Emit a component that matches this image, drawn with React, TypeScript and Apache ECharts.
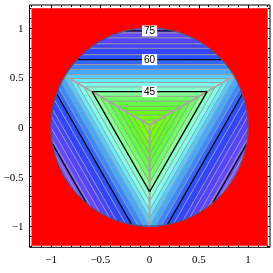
import React, { useEffect, useRef } from 'react';
import * as echarts from 'echarts';

// Axis tick labels (major) and minor tick positions
const xTickLabels = [-1, -0.5, 0, 0.5, 1];
const yTickLabels = [-1, -0.5, 0, 0.5, 1];
const minorTickValues = [-1.2, -1.1, -0.9, -0.8, -0.7, -0.6, -0.4, -0.3, -0.2, -0.1, 0.1, 0.2, 0.3, 0.4, 0.6, 0.7, 0.8, 0.9, 1.1, 1.2];

// Plot region (red background) and disk
const plotRange = [-1.2, 1.2];
const diskCenter = [0, 0];
const diskRadius = 1;

// Triangular contours: centre and inradius of each band boundary
const triCenter = [0, 0.02];
const bandOuterInradius = [0.05, 0.1, 0.145, 0.19, 0.24, 0.29, 0.337, 0.385, 0.43, 0.47, 0.51, 0.56, 0.61, 0.66, 0.71, 0.775, 0.82, 0.88, 0.93, 0.98, 2.0];
const bandColors = [
  '#7cff00', '#72ff08', '#66ff14', '#5cff24', '#62ff40', '#70ff62', '#84ff92',
  '#88ffcc', '#80ffee', '#66eeff', '#55ccff', '#44aaff', '#3a88ff', '#3366ff',
  '#2c50ff', '#3444ff', '#4444ff', '#5444ff', '#6448ff', '#7450ff', '#8452ff',
];

// Labelled contours
const contourLevels = [45, 60, 75];
const contourInradius = [0.337, 0.66, 0.95];

const ridgeAngles = [270, 30, 150];
const normalAngles = [90, 210, 330];

const rad = (d: number) => (d * Math.PI) / 180;

function diskDist(ux: number, uy: number) {
  const cx = triCenter[0] - diskCenter[0];
  const cy = triCenter[1] - diskCenter[1];
  const b = cx * ux + cy * uy;
  const c2 = cx * cx + cy * cy;
  return -b + Math.sqrt(b * b - c2 + diskRadius * diskRadius);
}

function bandPolygon(d: number): number[][] {
  const pts: number[][] = [];
  for (let t = 0; t < 360; t += 1) {
    const ux = Math.cos(rad(t));
    const uy = Math.sin(rad(t));
    let m = -Infinity;
    for (const a of normalAngles) m = Math.max(m, Math.cos(rad(t - a)));
    const rt = d / m;
    const r = Math.min(rt, diskDist(ux, uy));
    pts.push([triCenter[0] + r * ux, triCenter[1] + r * uy]);
  }
  return pts;
}

function triSegments(d: number): number[][][] {
  const verts = ridgeAngles.map((a) => [
    triCenter[0] + 2 * d * Math.cos(rad(a)),
    triCenter[1] + 2 * d * Math.sin(rad(a)),
  ]);
  const segs: number[][][] = [];
  for (let i = 0; i < 3; i++) {
    const p = verts[i];
    const q = verts[(i + 1) % 3];
    const px = p[0] - diskCenter[0];
    const py = p[1] - diskCenter[1];
    const dx = q[0] - p[0];
    const dy = q[1] - p[1];
    const A = dx * dx + dy * dy;
    const B = 2 * (px * dx + py * dy);
    const C = px * px + py * py - diskRadius * diskRadius;
    const disc = B * B - 4 * A * C;
    if (disc <= 0) continue;
    const s = Math.sqrt(disc);
    const t0 = Math.max(0, (-B - s) / (2 * A));
    const t1 = Math.min(1, (-B + s) / (2 * A));
    if (t1 <= t0) continue;
    segs.push([
      [p[0] + t0 * dx, p[1] + t0 * dy],
      [p[0] + t1 * dx, p[1] + t1 * dy],
    ]);
  }
  return segs;
}

const fmt = (v: number) => String(v).replace('-', '\u2212');

export default function App() {
  const ref = useRef<HTMLDivElement>(null);
  useEffect(() => {
    if (!ref.current) return;
    const chart = echarts.init(ref.current, null, { renderer: 'svg' });
    const xr: [number, number] = [-1.22, 1.223];
    const yr: [number, number] = [-1.215, 1.232];
    const font = { fontFamily: 'Liberation Serif', fontSize: 11, color: '#000' };
    const mkX = (position: string, major: boolean, labels: boolean) => ({
      type: 'value', min: xr[0], max: xr[1], position,
      axisLine: { show: false, onZero: false }, splitLine: { show: false },
      axisTick: { show: true, inside: true, length: major ? 4 : 2, customValues: major ? xTickLabels : minorTickValues, lineStyle: { color: '#000', width: 1 } },
      axisLabel: labels ? { show: true, customValues: xTickLabels, formatter: fmt, margin: 6, ...font } : { show: false },
    });
    const mkY = (position: string, major: boolean, labels: boolean) => ({
      type: 'value', min: yr[0], max: yr[1], position,
      axisLine: { show: false, onZero: false }, splitLine: { show: false },
      axisTick: { show: true, inside: true, length: major ? 4 : 2, customValues: major ? yTickLabels : minorTickValues, lineStyle: { color: '#000', width: 1 } },
      axisLabel: labels ? { show: true, customValues: yTickLabels, formatter: fmt, margin: 6, ...font } : { show: false },
    });

    const renderItem = (_params: any, api: any) => {
      const c = (p: number[]) => api.coord(p);
      const children: any[] = [];
      // red background
      children.push({
        type: 'polygon',
        shape: { points: [c([plotRange[0], plotRange[0]]), c([plotRange[1], plotRange[0]]), c([plotRange[1], plotRange[1]]), c([plotRange[0], plotRange[1]])] },
        style: { fill: '#ff0000' },
      });
      // bands, outermost first
      for (let i = bandOuterInradius.length - 1; i >= 0; i--) {
        children.push({
          type: 'polygon',
          shape: { points: bandPolygon(bandOuterInradius[i]).map(c) },
          style: { fill: bandColors[i], stroke: bandColors[i], lineWidth: 0.5 },
        });
      }
      // gray contour lines
      bandOuterInradius.forEach((d) => {
        triSegments(d).forEach((s) => {
          const a = c(s[0]);
          const b = c(s[1]);
          children.push({ type: 'line', shape: { x1: a[0], y1: a[1], x2: b[0], y2: b[1] }, style: { stroke: '#9c9c9c', lineWidth: 1 } });
        });
      });
      // ridge lines
      ridgeAngles.forEach((ang) => {
        const ux = Math.cos(rad(ang));
        const uy = Math.sin(rad(ang));
        const r = diskDist(ux, uy);
        const a = c(triCenter);
        const b = c([triCenter[0] + r * ux, triCenter[1] + r * uy]);
        children.push({ type: 'line', shape: { x1: a[0], y1: a[1], x2: b[0], y2: b[1] }, style: { stroke: '#a6a6a6', lineWidth: 2 } });
      });
      // black labelled contours
      contourInradius.forEach((d) => {
        triSegments(d).forEach((s) => {
          const a = c(s[0]);
          const b = c(s[1]);
          children.push({ type: 'line', shape: { x1: a[0], y1: a[1], x2: b[0], y2: b[1] }, style: { stroke: '#000', lineWidth: 1.3 } });
        });
      });
      // disk outline
      const circ: number[][] = [];
      for (let t = 0; t <= 360; t += 2) {
        circ.push(c([diskCenter[0] + diskRadius * Math.cos(rad(t)), diskCenter[1] + diskRadius * Math.sin(rad(t))]));
      }
      children.push({ type: 'polyline', shape: { points: circ }, style: { stroke: '#555', lineWidth: 1, fill: null } });
      // contour labels
      contourLevels.forEach((lv, i) => {
        const p = c([triCenter[0], triCenter[1] + contourInradius[i]]);
        children.push({
          type: 'text',
          x: p[0], y: p[1],
          style: {
            text: String(lv), align: 'center', verticalAlign: 'middle',
            font: '10px "Liberation Sans"', fill: '#000',
            backgroundColor: '#fff', padding: [1, 2, 0, 2],
          },
        });
      });
      return { type: 'group', children };
    };

    chart.setOption({
      animation: false,
      grid: { left: 29.5, top: 5, width: 240.5, height: 242.3, show: true, backgroundColor: '#fff', borderColor: '#000', borderWidth: 1 },
      xAxis: [mkX('bottom', true, true), mkX('bottom', false, false), mkX('top', true, false), mkX('top', false, false)],
      yAxis: [mkY('left', true, true), mkY('left', false, false), mkY('right', true, false), mkY('right', false, false)],
      series: [{ type: 'custom', xAxisIndex: 0, yAxisIndex: 0, data: [[0, 0]], renderItem, clip: false, silent: true }],
    });
    return () => chart.dispose();
  }, []);
  return <div ref={ref} style={{ position: 'fixed', left: 0, top: 0, width: 273, height: 273 }} />;
}
